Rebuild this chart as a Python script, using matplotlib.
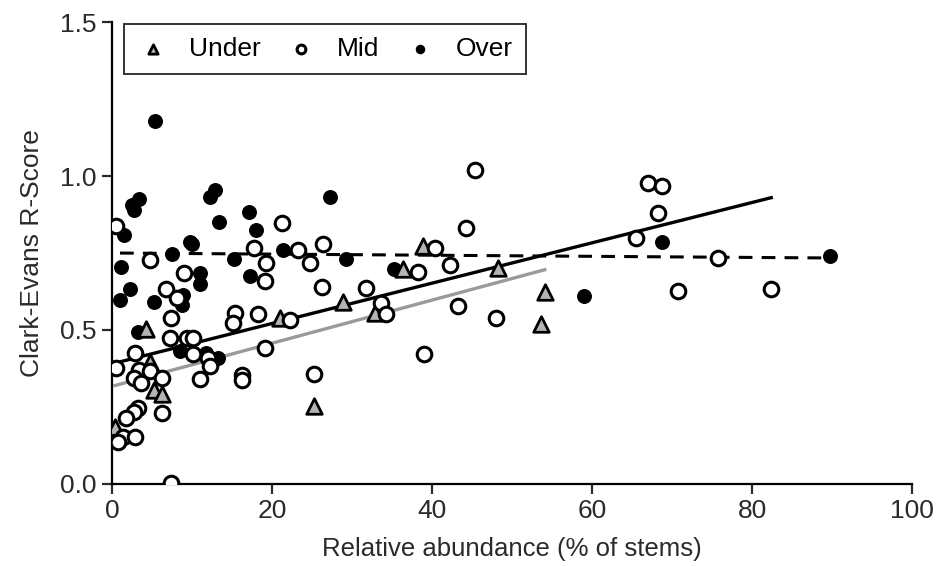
import matplotlib.pyplot as plt

plt.rcParams['font.family'] = ['Liberation Sans', 'DejaVu Sans']

# relative abundance (% of stems) and Clark-Evans R for each canopy class
under_x = [0.4, 4.3, 4.75, 5.2, 6.3, 21.0, 25.25, 28.9, 32.9, 36.4, 38.9, 48.2, 53.6, 54.1]
under_y = [0.186, 0.502, 0.397, 0.305, 0.292, 0.538, 0.253, 0.592, 0.554, 0.697, 0.774, 0.700, 0.519, 0.624]

mid_x = [0.5, 4.75, 9.0, 6.8, 17.7, 8.1, 7.4, 7.25, 9.4, 10.1, 15.4, 15.1, 2.9, 10.1, 12.0,
         12.25, 0.5, 3.4, 4.75, 2.7, 3.6, 6.2, 11.0, 16.2, 16.3, 6.3, 3.3, 2.7, 1.8, 1.4,
         2.9, 0.7, 7.4, 21.2, 23.3, 26.4, 19.3, 24.75, 19.1, 26.2, 38.3, 31.75, 18.2, 22.2,
         33.6, 34.3, 19.1, 25.25, 39.0, 45.4, 44.3, 40.4, 42.25, 43.2, 48.0, 65.5, 67.0,
         68.7, 68.2, 75.7, 70.8, 82.4]
mid_y = [0.838, 0.727, 0.684, 0.634, 0.765, 0.603, 0.538, 0.473, 0.473, 0.473, 0.554, 0.522,
         0.424, 0.421, 0.408, 0.383, 0.376, 0.370, 0.368, 0.343, 0.329, 0.343, 0.340, 0.354,
         0.338, 0.230, 0.246, 0.232, 0.213, 0.154, 0.152, 0.137, 0.004, 0.846, 0.760, 0.779,
         0.716, 0.719, 0.660, 0.641, 0.689, 0.635, 0.552, 0.532, 0.587, 0.552, 0.440, 0.357,
         0.422, 1.020, 0.830, 0.765, 0.711, 0.578, 0.540, 0.800, 0.978, 0.968, 0.881, 0.733,
         0.628, 0.632]

over_x = [5.4, 2.5, 3.4, 2.7, 12.25, 12.9, 13.4, 1.5, 9.7, 10.0, 7.5, 15.3, 1.1, 11.0, 11.0,
          2.2, 17.1, 17.2, 18.0, 1.0, 5.3, 8.9, 8.7, 3.2, 8.5, 11.8, 13.2, 21.4, 27.25, 29.3,
          35.2, 59.0, 68.8, 89.8]
over_y = [1.180, 0.906, 0.925, 0.890, 0.933, 0.955, 0.850, 0.810, 0.787, 0.780, 0.746, 0.730,
          0.706, 0.684, 0.648, 0.634, 0.882, 0.675, 0.825, 0.598, 0.592, 0.614, 0.581, 0.495,
          0.433, 0.424, 0.410, 0.760, 0.933, 0.730, 0.697, 0.611, 0.787, 0.740]

# fitted lines: intercept, slope, x range
under_fit = [0.317, 0.0070, 0.4, 54.1]
mid_fit = [0.390, 0.00655, 0.4, 82.4]
over_fit = [0.750, -0.00018, 1.0, 89.8]

fig = plt.figure(figsize=(9.45, 5.66), dpi=100)
ax = fig.add_axes([0.1185, 0.145, 0.8466, 0.816])


def fit_line(fit, **kw):
    a, b, x0, x1 = fit
    ax.plot([x0, x1], [a + b * x0, a + b * x1], zorder=2, **kw)


fit_line(under_fit, color='#9a9a9a', lw=2.4)
fit_line(mid_fit, color='black', lw=2.4)
fit_line(over_fit, color='black', lw=2.2, ls=(0, (4.5, 3)))

ax.scatter(over_x, over_y, s=95, color='black', zorder=3, label='Over')
ax.scatter(under_x, under_y, s=125, marker='^', facecolor='#b4b4b4', edgecolor='black',
           linewidth=2, zorder=4, label='Under')
ax.scatter(mid_x, mid_y, s=110, marker='o', facecolor='white', edgecolor='black',
           linewidth=2.2, zorder=5, label='Mid')

ax.set_xlim(0, 100)
ax.set_ylim(0, 1.5)
ax.set_xticks([0, 20, 40, 60, 80, 100])
ax.set_yticks([0.0, 0.5, 1.0, 1.5])
ax.set_yticklabels(['0.0', '0.5', '1.0', '1.5'])
ax.spines['top'].set_visible(False)
ax.spines['right'].set_visible(False)
for s in ['left', 'bottom']:
    ax.spines[s].set_linewidth(1.6)
ax.tick_params(length=7, width=1.6, labelsize=19, colors='#2a2a2a', pad=4)
for s in ax.spines.values():
    s.set_clip_on(False)

ax.set_xlabel('Relative abundance (% of stems)', fontsize=18.5, color='#2a2a2a', labelpad=10)
ax.set_ylabel('Clark-Evans R-Score', fontsize=19, color='#2a2a2a', labelpad=12)

handles, labels = ax.get_legend_handles_labels()
order = [1, 2, 0]
leg = ax.legend([handles[i] for i in order], [labels[i] for i in order], ncol=3,
                loc='upper left', bbox_to_anchor=(0.015, 0.996), borderaxespad=0,
                fontsize=19, markerscale=0.6, frameon=True, fancybox=False,
                borderpad=0.5, handletextpad=0.77, columnspacing=0.92, handlelength=1.2)
leg.get_frame().set_edgecolor('black')
leg.get_frame().set_linewidth(1.4)

fig.savefig('out.png', dpi=100)
